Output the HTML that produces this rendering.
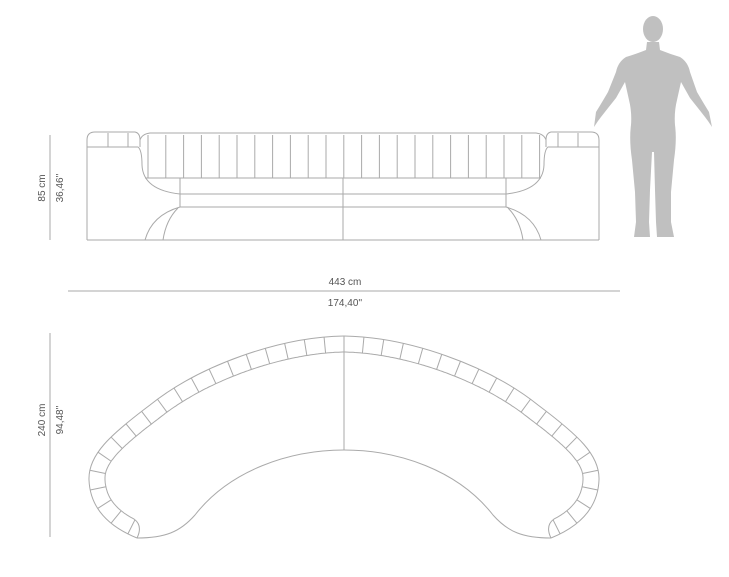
<!DOCTYPE html>
<html><head><meta charset="utf-8"><style>
html,body{margin:0;padding:0;background:#fff;width:729px;height:577px;overflow:hidden}
svg{display:block}
text{font-family:"Liberation Sans",sans-serif;font-size:10px;fill:#555}
</style></head><body>
<svg id="s" width="729" height="577" viewBox="0 0 729 577" xmlns="http://www.w3.org/2000/svg">
<g fill="none" stroke="#aaa" stroke-width="1">
<line x1="50" y1="135" x2="50" y2="240"/>
<line x1="68" y1="291" x2="620" y2="291"/>
<line x1="50" y1="333" x2="50" y2="537"/>
<g id="half">
<path d="M87,240 L87,140 Q87,132 95,132 L135,132 Q140,133 140,140 L140,147"/>
<path d="M87,147 L138,147 Q142,150 142,165 Q143,190 180,194"/>
<line x1="108" y1="133" x2="108" y2="147"/>
<line x1="128" y1="133" x2="128" y2="147"/>
<path d="M140,140 Q142,134 150,133 L343,133"/>
<line x1="145" y1="178" x2="343" y2="178"/>
<line x1="180" y1="194" x2="343" y2="194"/>
<line x1="180" y1="207" x2="343" y2="207"/>
<line x1="180" y1="178" x2="180" y2="207"/>
<path d="M180,207 Q152,215 145,240"/>
<path d="M178,208 Q166,220 163,240"/>
<line x1="87" y1="240" x2="343" y2="240"/>
</g>
<use href="#half" transform="translate(686,0) scale(-1,1)"/>
<line x1="343" y1="178" x2="343" y2="240"/>
<g id="ch"></g>
<g id="top">
<path id="o" d="M344,336 C280,337 200,365 150,405 C110,435 88,455 89,480 C90,505 105,525 137,538"/>
<path id="i" d=""/>
<path d="M344,450 C290,450 230,470 195,515 C180,532 165,538 137,538"/>
<g id="dv"></g>
</g>
<use href="#top" transform="translate(688,0) scale(-1,1)"/>
<line x1="344" y1="336" x2="344" y2="450"/>
</g>
<path fill="#c0c0c0" d="M647,42 L659,42 L660,50 Q670,54 680,57 Q688,62 690,72 L697,92 Q704,104 709,112 L712,127 L708,121 L705,117 Q698,108 690,98 L681,82 L677,100 Q674,112 675,125 Q677,140 674,160 L671,192 L671,222 L674,237 L657,237 L656,222 L655,190 L654,152 L652,152 L650,190 L649,222 L650,237 L634,237 L636,222 L635,192 L632,160 Q629,140 631,125 Q632,112 629,100 L625,82 L616,98 Q608,108 601,117 L598,121 L594,127 L596,112 Q601,104 608,92 L616,72 Q618,62 626,57 Q636,54 646,50 Z"/>
<ellipse cx="653" cy="29" rx="10" ry="13" fill="#c0c0c0"/>
<text x="345" y="285" text-anchor="middle">443 cm</text>
<text x="345" y="306" text-anchor="middle">174,40''</text>
<text transform="translate(45,188) rotate(-90)" text-anchor="middle">85 cm</text>
<text transform="translate(63,188) rotate(-90)" text-anchor="middle">36,46''</text>
<text transform="translate(45,420) rotate(-90)" text-anchor="middle">240 cm</text>
<text transform="translate(63,420) rotate(-90)" text-anchor="middle">94,48''</text>
</svg>
<script>
var ns="http://www.w3.org/2000/svg";
var ch=document.getElementById("ch");
for(var k=0;k<23;k++){var x=148+k*17.8;var l=document.createElementNS(ns,"line");l.setAttribute("x1",x);l.setAttribute("x2",x);l.setAttribute("y1",135);l.setAttribute("y2",178);ch.appendChild(l);}
var o=document.getElementById("o"),ip=document.getElementById("i"),dv=document.getElementById("dv");
var L=o.getTotalLength(),W=16,endL=L-10;
function P(s){var a=o.getPointAtLength(Math.max(0,s-0.5)),b=o.getPointAtLength(Math.min(L,s+0.5));var dx=b.x-a.x,dy=b.y-a.y,m=Math.hypot(dx,dy)||1;var p=o.getPointAtLength(s);return {x:p.x,y:p.y,ix:p.x+dy/m*W,iy:p.y-dx/m*W};}
var d="";for(var s=0;s<=endL;s+=2){var q=P(s);d+=(s?"L":"M")+q.ix.toFixed(1)+","+q.iy.toFixed(1);}
var e=P(endL);var f=o.getPointAtLength(L);
d+="Q"+(e.ix+8).toFixed(1)+","+(e.iy+6).toFixed(1)+" "+f.x.toFixed(1)+","+f.y.toFixed(1);
ip.setAttribute("d",d);
var n=19,step=endL/n;
for(var k=1;k<=n;k++){var q=P(k*step);var l=document.createElementNS(ns,"line");l.setAttribute("x1",q.x);l.setAttribute("y1",q.y);l.setAttribute("x2",q.ix);l.setAttribute("y2",q.iy);dv.appendChild(l);}
</script>
</body></html>
